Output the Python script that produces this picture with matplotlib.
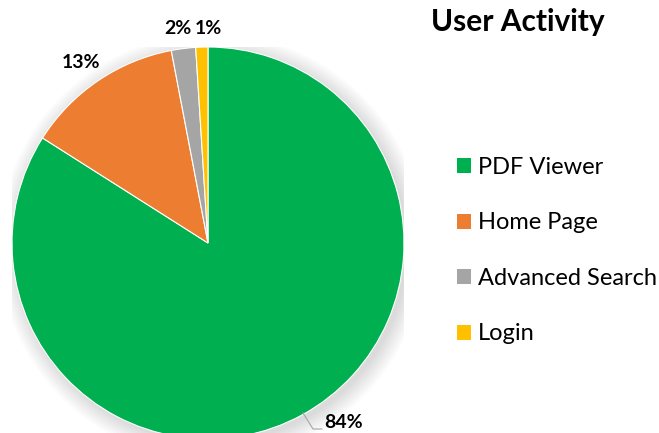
import matplotlib.pyplot as plt
from matplotlib.patches import Circle

# data
labels = ['PDF Viewer', 'Home Page', 'Advanced Search', 'Login']
shares = [84, 13, 2, 1]
colors = ['#00B050', '#ED7D31', '#A5A5A5', '#FFC000']

plt.rcParams['font.family'] = ['Lato', 'DejaVu Sans']

fig = plt.figure(figsize=(6.59, 4.33), dpi=100)
W, H = 659, 433
cx, cy, r = 208, 243, 196
ax = fig.add_axes([(cx - r) / W, (H - cy - r) / H, 2 * r / W, 2 * r / H])

# soft shadow behind the pie
for i in range(12):
    ax.add_patch(Circle((0.02, -0.02), 1.0 + i * 0.008, color='black',
                        alpha=0.012, lw=0, zorder=0))

wedges, _ = ax.pie(shares, colors=colors, startangle=90, counterclock=False,
                   radius=1.0, wedgeprops=dict(edgecolor='white', linewidth=0.8))
for w in wedges:
    w.set_zorder(2)
ax.set_xlim(-1, 1)
ax.set_ylim(-1, 1)
ax.set_aspect('equal')
ax.axis('off')

# percentage labels
lab_kw = dict(fontsize=14, fontweight='bold', ha='center', va='center')
fig.text(81 / W, 1 - 62 / H, f'{shares[1]}%', **lab_kw)
fig.text(178 / W, 1 - 29 / H, f'{shares[2]}%', **lab_kw)
fig.text(208 / W, 1 - 29 / H, f'{shares[3]}%', **lab_kw)
fig.text(344 / W, 1 - 422 / H, f'{shares[0]}%', **lab_kw)
# leader line for 84%
fig.add_artist(plt.Line2D([303 / W, 313 / W, 322 / W],
                          [1 - 413 / H, 1 - 429 / H, 1 - 429 / H],
                          color='#A6A6A6', lw=0.8))

fig.text(518 / W, 1 - 22 / H, 'User Activity', fontsize=21.5, fontweight='bold',
         ha='center', va='center')

leg = fig.legend(wedges, labels, loc='upper left', bbox_to_anchor=(457 / W, 1 - 157 / H),
                 frameon=False, fontsize=17, handlelength=0.6, handleheight=0.6,
                 handletextpad=0.3, labelspacing=1.46, borderpad=0, borderaxespad=0)
for h in leg.legend_handles:
    h.set_edgecolor('none')

fig.savefig('out.png', dpi=100)
